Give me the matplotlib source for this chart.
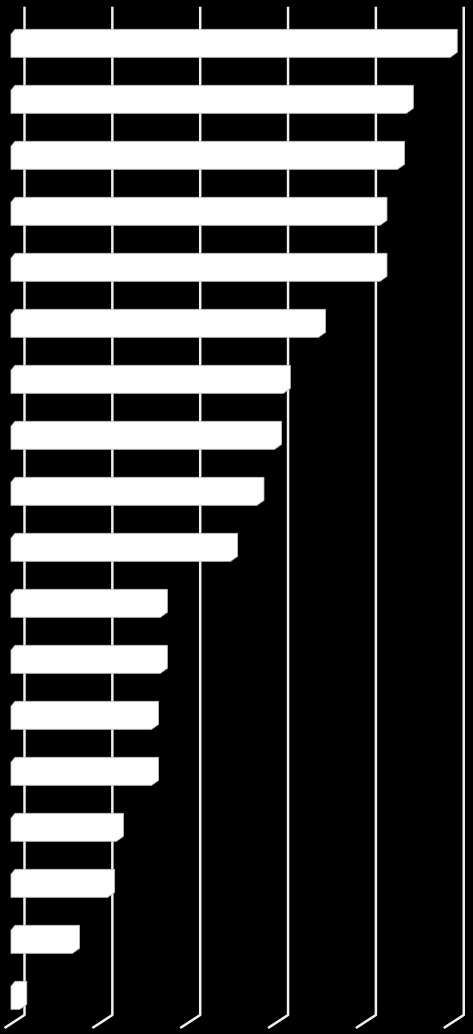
import matplotlib
matplotlib.use('Agg')
import matplotlib.pyplot as plt
from matplotlib.patches import Polygon
import numpy as np

# bar values, top to bottom (axis 0-50, gridline every 10)
values = [50, 45, 44, 42, 42, 35, 31, 30, 28, 25, 17, 17, 16, 16, 12, 11, 7, 1]
grid_ticks = [0, 10, 20, 30, 40, 50]

W, H = 473, 1034
fig = plt.figure(figsize=(W / 100, H / 100), dpi=100, facecolor='black')
ax = fig.add_axes([0, 0, 1, 1])
ax.set_facecolor('black')
ax.axis('off')

# pixel geometry of the 3D-style layout
xs = 8.785          # px per value unit
x0 = 11.0           # px where 0 sits on the bar front face
row = 56.0          # px between bars
y0 = 45.8           # px centre of first bar front face
ax.set_xlim(-x0 / xs, (W - x0) / xs)
ax.set_ylim((H - y0) / row, -y0 / row)

def px_x(p):
    return p / xs

def px_y(p):
    return p / row

# back wall gridlines with slanted floor ticks
back = px_x(13.5)
ytop = px_y(6.7 - y0)
ybot = px_y(1015 - y0)
for t in grid_ticks:
    xb = t + back
    ax.plot([xb, xb, xb - px_x(20)], [ytop, ybot, ybot + px_y(13)],
            color='#f0f0f0', lw=1.8, solid_capstyle='butt', zorder=1)

# bars with chamfered depth corners
h = px_y(11.5)
dxl, dxr, dy = px_x(4), px_x(7), px_y(5)
for i, v in enumerate(values):
    pts = [(0, i + h), (v, i + h), (v + dxr, i + h - dy), (v + dxr, i - h - dy),
           (dxl, i - h - dy), (0, i - h)]
    ax.add_patch(Polygon(pts, closed=True, facecolor='white',
                         edgecolor='#bfbfbf', lw=0.6, zorder=3))

fig.savefig('out.png', dpi=100, facecolor='black')
